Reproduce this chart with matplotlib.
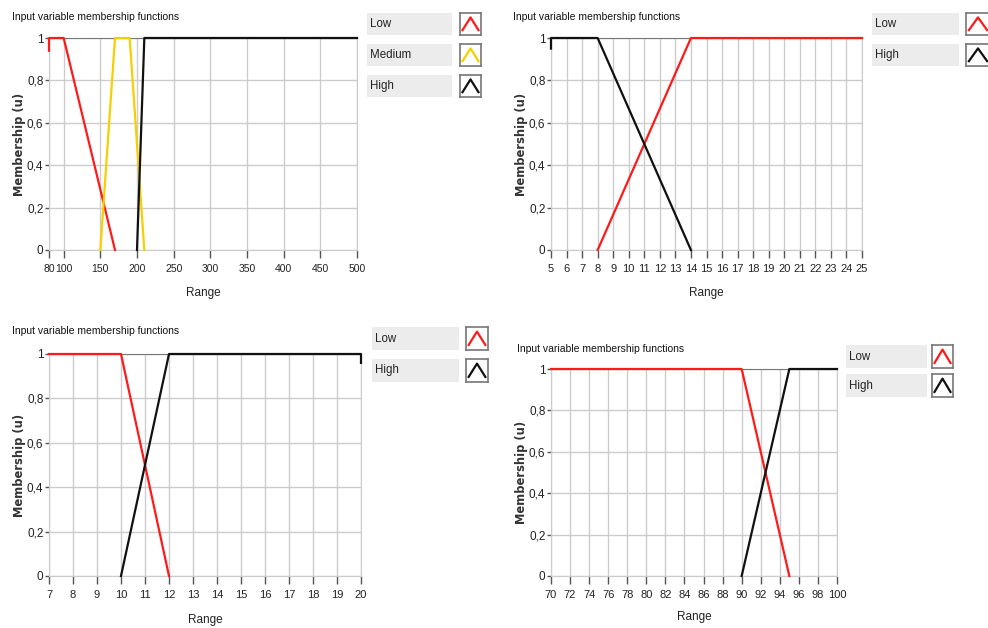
import matplotlib
matplotlib.use("Agg")
import matplotlib.pyplot as plt
from matplotlib.patches import Rectangle

plt.rcParams['font.family'] = ['Liberation Sans', 'DejaVu Sans']

W, H = 988, 628

# panel 1 (top left)
p1_xticks = [80, 100, 150, 200, 250, 300, 350, 400, 450, 500]
p1_low_x = [80, 80, 100, 170]
p1_low_y = [0.94, 1, 1, 0]
p1_med_x = [150, 170, 190, 210]
p1_med_y = [0, 1, 1, 0]
p1_high_x = [200, 210, 500]
p1_high_y = [0, 1, 1]

# panel 2 (top right)
p2_xticks = list(range(5, 26))
p2_low_x = [8, 14, 25]
p2_low_y = [0, 1, 1]
p2_high_x = [5, 5, 8, 14]
p2_high_y = [0.95, 1, 1, 0]

# panel 3 (bottom left)
p3_xticks = list(range(7, 21))
p3_low_x = [7, 10, 12]
p3_low_y = [1, 1, 0]
p3_high_x = [10, 12, 20, 20]
p3_high_y = [0, 1, 1, 0.96]

# panel 4 (bottom right)
p4_xticks = list(range(70, 101, 2))
p4_low_x = [70, 90, 95]
p4_low_y = [1, 1, 0]
p4_high_x = [90, 95, 100]
p4_high_y = [0, 1, 1]

yticks = [0, 0.2, 0.4, 0.6, 0.8, 1]
ylabels = ['0', '0,2', '0,4', '0,6', '0,8', '1']

RED = '#ff1a1a'
YEL = '#f5d000'
BLK = '#111111'


def fig_rect(x0, y0, x1, y1):
    # pixel box (top-left origin) -> figure fraction [l, b, w, h]
    return [x0 / W, 1 - y1 / H, (x1 - x0) / W, (y1 - y0) / H]


def draw_panel(fig, box, xticks, series, title_xy, range_y, mem_x, tsize=8):
    ax = fig.add_axes(fig_rect(*box))
    for xs, ys, c in series:
        ax.plot(xs, ys, color=c, lw=1.6, clip_on=False, zorder=3)
    ax.set_xlim(xticks[0], xticks[-1])
    ax.set_ylim(0, 1)
    ax.set_xticks(xticks)
    ax.set_xticklabels([str(t) for t in xticks])
    ax.set_yticks(yticks)
    ax.set_yticklabels(ylabels)
    ax.grid(True, color='#cccccc', lw=1.0)
    for s in ['left', 'bottom', 'right']:
        ax.spines[s].set_color('#cccccc')
    ax.spines['top'].set_color('#777777')
    ax.tick_params(axis='x', length=6, width=1, color='#555555', pad=4,
                   labelsize=tsize, labelcolor='#222222')
    ax.tick_params(axis='y', length=3, width=1, color='#555555', pad=1,
                   labelsize=8.5, labelcolor='#222222')
    fig.text(title_xy[0] / W, 1 - title_xy[1] / H,
             'Input variable membership functions',
             fontsize=7.5, color='#111111', va='center', ha='left')
    cx = (box[0] + box[2]) / 2
    fig.text(cx / W, 1 - range_y / H, 'Range', fontsize=8.5,
             color='#222222', ha='center', va='center')
    fig.text(mem_x / W, 1 - (box[1] + box[3]) / 2 / H, 'Membership (u)',
             family='DejaVu Sans', fontsize=8.3, fontweight='bold',
             color='#333333', rotation=90, ha='center', va='center')
    return ax


def draw_legend(fig, lab_x0, lab_x1, ico_x0, ico_x1, tops, hgt, names, colors):
    for top, name, c in zip(tops, names, colors):
        fig.patches.append(Rectangle((lab_x0 / W, 1 - (top + hgt) / H),
                                     (lab_x1 - lab_x0) / W, hgt / H,
                                     transform=fig.transFigure,
                                     facecolor='#ececec', edgecolor='none'))
        fig.text((lab_x0 + 3) / W, 1 - (top + hgt / 2) / H, name,
                 fontsize=8.3, color='#222222', va='center', ha='left')
        iax = fig.add_axes(fig_rect(ico_x0, top, ico_x1, top + hgt))
        iax.plot([0.12, 0.5, 0.88], [0.22, 0.8, 0.22], color=c, lw=1.6)
        iax.set_xlim(0, 1)
        iax.set_ylim(0, 1)
        iax.set_xticks([])
        iax.set_yticks([])
        for s in iax.spines.values():
            s.set_color('#777777')
            s.set_linewidth(1.2)


fig = plt.figure(figsize=(W / 100, H / 100), dpi=100)

draw_panel(fig, (49, 38, 357, 250), p1_xticks,
           [(p1_low_x, p1_low_y, RED), (p1_med_x, p1_med_y, YEL),
            (p1_high_x, p1_high_y, BLK)],
           (12, 17), 293, 20, tsize=7.5)
draw_legend(fig, 367, 452, 460, 481, [13, 44, 75], 22,
            ['Low', 'Medium', 'High'], [RED, YEL, BLK])

draw_panel(fig, (551, 38, 862, 250), p2_xticks,
           [(p2_low_x, p2_low_y, RED), (p2_high_x, p2_high_y, BLK)],
           (513, 17), 293, 521)
draw_legend(fig, 872, 959, 966, 990, [13, 44], 22,
            ['Low', 'High'], [RED, BLK])

draw_panel(fig, (49, 354, 361, 576), p3_xticks,
           [(p3_low_x, p3_low_y, RED), (p3_high_x, p3_high_y, BLK)],
           (12, 331), 620, 20)
draw_legend(fig, 372, 459, 466, 488, [327, 359], 23,
            ['Low', 'High'], [RED, BLK])

draw_panel(fig, (551, 369, 837, 576), p4_xticks,
           [(p4_low_x, p4_low_y, RED), (p4_high_x, p4_high_y, BLK)],
           (517, 349), 617, 521)
draw_legend(fig, 846, 927, 932, 953, [345, 374], 23,
            ['Low', 'High'], [RED, BLK])

fig.savefig('out.png', dpi=100)
